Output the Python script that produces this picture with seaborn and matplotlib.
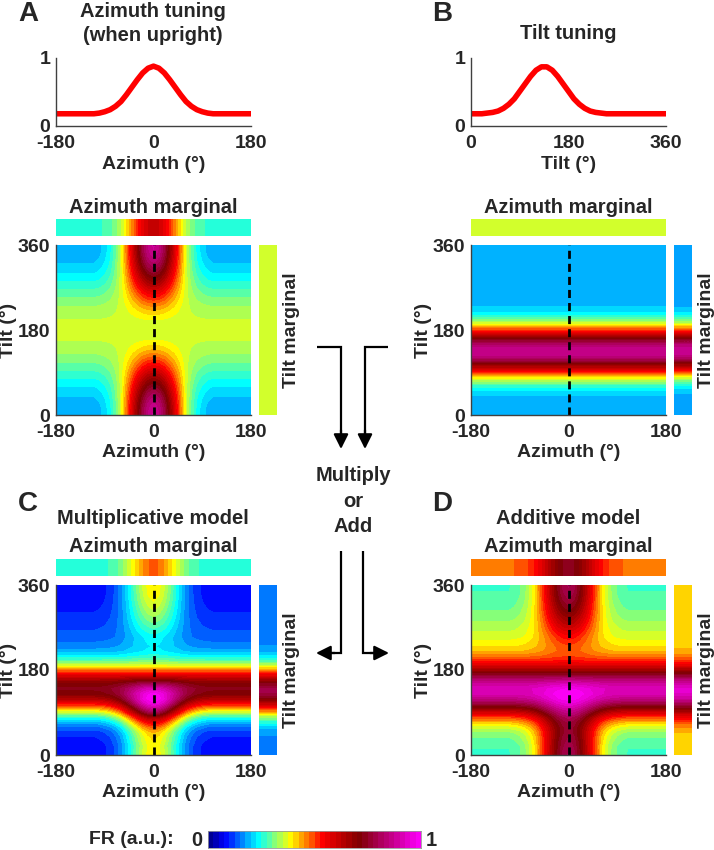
import numpy as np
import matplotlib
matplotlib.use('Agg')
import matplotlib.pyplot as plt
from matplotlib.colors import LinearSegmentedColormap
import seaborn as sns

# tuning curves (every 10 deg)
azimuth = np.arange(-180, 181, 10)
az_tuning = [0.18, 0.18, 0.18, 0.18, 0.18, 0.18, 0.18, 0.18, 0.19, 0.21,
             0.24, 0.29, 0.36, 0.46, 0.57, 0.68, 0.78, 0.85, 0.88, 0.85,
             0.78, 0.68, 0.57, 0.46, 0.36, 0.29, 0.24, 0.21, 0.19, 0.18,
             0.18, 0.18, 0.18, 0.18, 0.18, 0.18, 0.18]

tilt = np.arange(0, 361, 10)
tilt_tuning = [0.18, 0.18, 0.18, 0.19, 0.20, 0.22, 0.26, 0.32, 0.40, 0.51,
               0.62, 0.73, 0.82, 0.87, 0.87, 0.82, 0.73, 0.62, 0.51, 0.40,
               0.32, 0.26, 0.22, 0.20, 0.19, 0.18, 0.18, 0.18, 0.18, 0.18,
               0.18, 0.18, 0.18, 0.18, 0.18, 0.18, 0.18]

# how strongly the azimuth tuning shows at each tilt (full when upright)
upright_weight = [1.00, 0.99, 0.97, 0.93, 0.88, 0.82, 0.75, 0.67, 0.59, 0.50,
                  0.41, 0.33, 0.25, 0.18, 0.12, 0.07, 0.03, 0.01, 0.00, 0.01,
                  0.03, 0.07, 0.12, 0.18, 0.25, 0.33, 0.41, 0.50, 0.59, 0.67,
                  0.75, 0.82, 0.88, 0.93, 0.97, 0.99, 1.00]

az_t = np.array(az_tuning)
tl_t = np.array(tilt_tuning)
w = np.array(upright_weight)

az_mean = az_t[:-1].mean()
map_a = az_mean + w[:, None] * (az_t[None, :] - az_mean)
map_b = np.repeat(tl_t[:, None], len(azimuth), axis=1)
map_c = map_a * map_b
map_c = map_c / map_c.max()
map_d = map_a + map_b
map_d = map_d / map_d.max()

# jet squeezed into the lower half, then red -> maroon -> magenta
cmap = LinearSegmentedColormap.from_list('fr', [
    (0.0, (0, 0, 0.5)), (0.08, (0, 0, 1)), (0.235, (0, 1, 1)),
    (0.385, (1, 1, 0)), (0.535, (1, 0, 0)), (0.71, (0.5, 0, 0)),
    (1.0, (1, 0, 1))])
levels = np.linspace(0, 1, 41)
cmap_steps = cmap.resampled(40)

sns.set_style('white')
plt.rcParams['font.family'] = ['Liberation Sans', 'DejaVu Sans']
plt.rcParams['font.weight'] = 'bold'
plt.rcParams['axes.labelweight'] = 'bold'
plt.rcParams['axes.unicode_minus'] = False

W, H = 714, 850
fig = plt.figure(figsize=(W / 100, H / 100), dpi=100)

TICK = 14
LAB = 14


def box(x0, y0, x1, y1):
    return fig.add_axes([x0 / W, 1 - y1 / H, (x1 - x0) / W, (y1 - y0) / H])


def style_axes(ax):
    for s in ['top', 'right']:
        ax.spines[s].set_visible(False)
    for s in ['left', 'bottom']:
        ax.spines[s].set_color('0.25')
        ax.spines[s].set_linewidth(1)
    ax.tick_params(direction='in', length=3, width=1, color='0.25',
                   labelsize=TICK)
    ax.tick_params(axis='x', pad=6.5)
    ax.tick_params(axis='y', pad=4)
    for lab in ax.get_xticklabels() + ax.get_yticklabels():
        lab.set_fontweight('bold')


def tuning(x0, x, y, xlim, xticks, xlabel):
    ax = box(x0, 58, x0 + 195, 126)
    sns.lineplot(x=x, y=y, ax=ax, color='red', lw=4, legend=False)
    ax.set_xlim(*xlim)
    ax.set_ylim(0, 1)
    ax.set_xticks(xticks)
    ax.set_yticks([0, 1])
    ax.set_xlabel(xlabel, fontsize=LAB, fontweight='bold', labelpad=3)
    ax.set_ylabel('')
    style_axes(ax)
    ax.lines[0].set_solid_capstyle('butt')


def model(x0, y0, z):
    # azimuth marginal strip
    sa = box(x0, y0, x0 + 195, y0 + 17)
    sa.imshow(z[:-1].mean(axis=0)[None, :], extent=[-180, 180, 0, 1],
              aspect='auto', cmap=cmap_steps, vmin=0, vmax=1,
              interpolation='bilinear', interpolation_stage='data')
    sa.set_xticks([])
    sa.set_yticks([])
    for s in sa.spines.values():
        s.set_visible(False)
    # main map
    ax = box(x0, y0 + 26, x0 + 195, y0 + 196)
    ax.contourf(azimuth, tilt, z, levels=levels, cmap=cmap, vmin=0, vmax=1)
    ax.plot([0, 0], [0, 360], color='k', lw=2, ls=(0, (2.9, 1.8)))
    ax.set_xlim(-180, 180)
    ax.set_ylim(0, 360)
    ax.set_xticks([-180, 0, 180])
    ax.set_yticks([0, 180, 360])
    ax.set_xlabel('Azimuth (°)', fontsize=LAB, fontweight='bold', labelpad=2)
    ax.set_ylabel('Tilt (°)', fontsize=LAB, fontweight='bold')
    ax.yaxis.set_label_coords(-0.2, 0.5)
    style_axes(ax)
    # tilt marginal strip
    st = box(x0 + 203, y0 + 26, x0 + 221, y0 + 196)
    st.imshow(z[:, :-1].mean(axis=1)[:, None], extent=[0, 1, 0, 360],
              origin='lower', aspect='auto', cmap=cmap_steps, vmin=0, vmax=1,
              interpolation='bilinear', interpolation_stage='data')
    st.set_xticks([])
    st.set_yticks([])
    for s in st.spines.values():
        s.set_visible(False)
    st.yaxis.set_label_position('right')
    st.set_ylabel('Tilt marginal', fontsize=LAB, fontweight='bold',
                  rotation=90, labelpad=4)


tuning(56, azimuth, az_tuning, (-180, 180), [-180, 0, 180], 'Azimuth (°)')
tuning(471, tilt, tilt_tuning, (0, 360), [0, 180, 360], 'Tilt (°)')

model(56, 219, map_a)
model(471, 219, map_b)
model(56, 559, map_c)
model(471, 559, map_d)

# colour scale
cax = box(208, 831, 421, 848)
cax.contourf(levels[None, :].repeat(2, axis=0), levels=levels,
             cmap=cmap, vmin=0, vmax=1, extent=[0, 1, 0, 1])
cax.set_xticks([])
cax.set_yticks([])
for s in cax.spines.values():
    s.set_color('0.6')
    s.set_linewidth(0.6)

# overlay for text and arrows, in pixel units
ov = fig.add_axes([0, 0, 1, 1], facecolor='none')
ov.set_xlim(0, W)
ov.set_ylim(H, 0)
ov.axis('off')

kw = dict(ha='center', va='center', fontweight='bold', fontsize=14.5)
for letter, x, y in [('A', 28, 14), ('B', 442, 14), ('C', 28, 504), ('D', 442, 504)]:
    ov.text(x, y, letter, ha='center', va='center', fontweight='bold', fontsize=20)
ov.text(153, 11, 'Azimuth tuning', **kw)
ov.text(153, 35, '(when upright)', **kw)
ov.text(568, 33, 'Tilt tuning', **kw)
for x in (153, 568):
    ov.text(x, 207, 'Azimuth marginal', **kw)
    ov.text(x, 547, 'Azimuth marginal', **kw)
ov.text(153, 518, 'Multiplicative model', **kw)
ov.text(568, 518, 'Additive model', **kw)
ov.text(353, 475, 'Multiply', **kw)
ov.text(353, 501, 'or', **kw)
ov.text(353, 527, 'Add', **kw)
ov.text(174, 840, 'FR (a.u.):', ha='right', va='center', fontweight='bold', fontsize=14)
ov.text(197, 840, '0', **kw)
ov.text(431, 840, '1', **kw)

arrow = dict(arrowstyle='-|>', mutation_scale=22, lw=1.6, color='k', shrinkA=0, shrinkB=0)
line = dict(color='k', lw=1.6, solid_capstyle='butt', solid_joinstyle='miter')
ov.plot([317, 341, 341], [347, 347, 440], **line)
ov.plot([388, 365, 365], [347, 347, 440], **line)
ov.annotate('', xy=(341, 449), xytext=(341, 430), arrowprops=arrow)
ov.annotate('', xy=(365, 449), xytext=(365, 430), arrowprops=arrow)
ov.plot([341, 341, 325], [551, 653, 653], **line)
ov.plot([363, 363, 380], [551, 653, 653], **line)
ov.annotate('', xy=(316, 653), xytext=(335, 653), arrowprops=arrow)
ov.annotate('', xy=(389, 653), xytext=(370, 653), arrowprops=arrow)

fig.savefig('out.png', dpi=100)
